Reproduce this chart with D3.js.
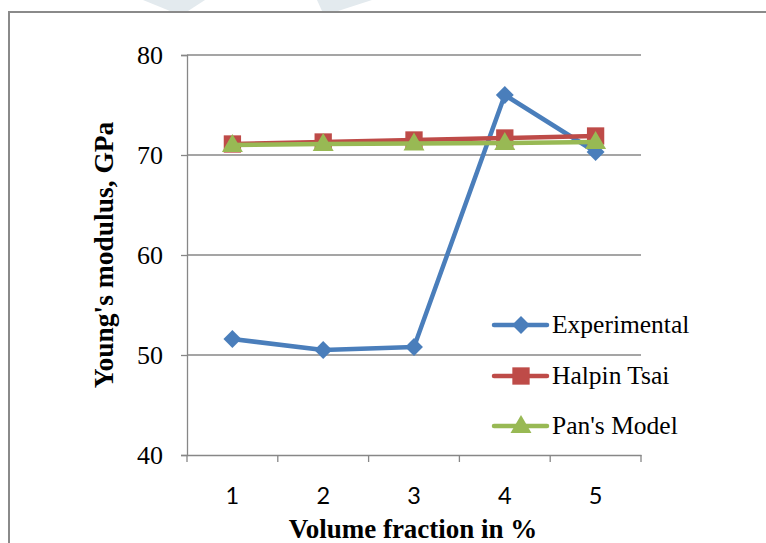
<!DOCTYPE html>
<html><head><meta charset="utf-8">
<script src="https://cdn.jsdelivr.net/npm/d3@7"></script>
<style>html,body{margin:0;padding:0;background:#fff;overflow:hidden}</style>
</head><body>
<script>
const categories = ["1","2","3","4","5"];
const experimental = [51.6, 50.5, 50.8, 76.0, 70.3];
const halpinTsai = [71.1, 71.3, 71.5, 71.7, 71.9];
const pansModel = [71.0, 71.1, 71.15, 71.2, 71.3];
const yTicks = [40, 50, 60, 70, 80];
const seriesNames = ["Experimental", "Halpin Tsai", "Pan's Model"];

const W = 766, H = 543;
const svg = d3.select("body").append("svg").attr("width", W).attr("height", H);

// faint watermark shapes at top
svg.append("polygon").attr("points", "143,0 205,0 188,11 170,11").attr("fill", "#e3eaee");
svg.append("polygon").attr("points", "317,0 372,0 338,11 322,11").attr("fill", "#e3eaee");

// outer border
svg.append("rect").attr("x", 9).attr("y", 12).attr("width", 800).attr("height", 600)
  .attr("fill", "none").attr("stroke", "#8a8a8a").attr("stroke-width", 2);

const x = d3.scaleBand().domain(categories).range([187, 641]);
const y = d3.scaleLinear().domain([40, 80]).range([455, 55]);

// gridlines
svg.append("g").selectAll("line").data(yTicks.filter(d => d > 40)).join("line")
  .attr("x1", 187).attr("x2", 641).attr("y1", d => y(d)).attr("y2", d => y(d))
  .attr("stroke", "#878787").attr("stroke-width", 1.3);

// y axis
const ya = svg.append("g").attr("transform", "translate(187,0)")
  .call(d3.axisLeft(y).tickValues(yTicks).tickSize(6).tickPadding(18));
ya.select(".domain").attr("stroke", "#878787").attr("stroke-width", 1.3);
ya.selectAll(".tick line").attr("stroke", "#878787").attr("stroke-width", 1.3);
ya.selectAll(".tick text").attr("font-family", "Liberation Serif, Times New Roman, serif")
  .attr("font-size", 26).attr("fill", "#000");

// x axis
const xa = svg.append("g").attr("transform", "translate(0,455)")
  .call(d3.axisBottom(x).tickSize(0).tickPadding(32));
xa.select(".domain").attr("stroke", "#878787").attr("stroke-width", 1.3);
xa.selectAll(".tick text").attr("font-family", "Lato, Open Sans, sans-serif")
  .attr("font-size", 23.5).attr("fill", "#000");
// x tick marks at band boundaries
const bounds = categories.map(c => x(c)).concat([x(categories[categories.length-1]) + x.bandwidth()]);
svg.append("g").selectAll("line").data(bounds).join("line")
  .attr("x1", d => d).attr("x2", d => d).attr("y1", 455).attr("y2", 462)
  .attr("stroke", "#878787").attr("stroke-width", 1.3);

// titles
svg.append("text").attr("x", 413).attr("y", 538).attr("text-anchor", "middle")
  .attr("font-family", "Liberation Serif, Times New Roman, serif").attr("font-weight", "bold")
  .attr("font-size", 27).text("Volume fraction in %");
svg.append("text").attr("transform", "translate(113,255) rotate(-90)").attr("text-anchor", "middle")
  .attr("font-family", "Liberation Serif, Times New Roman, serif").attr("font-weight", "bold")
  .attr("font-size", 27.5).text("Young's modulus, GPa");

const colors = ["#4a7ebb", "#be4b48", "#98b954"];
const data = [experimental, halpinTsai, pansModel];
const cx = c => x(c) + x.bandwidth() / 2;
const line = d3.line().x((d, i) => cx(categories[i])).y(d => y(d));

function marker(g, i, px, py) {
  if (i === 0) {
    g.append("path").attr("d", d3.symbol(d3.symbolSquare, 160)()).attr("transform", `translate(${px},${py}) rotate(45)`)
      .attr("fill", colors[i]);
  } else if (i === 1) {
    g.append("path").attr("d", d3.symbol(d3.symbolSquare, 300)()).attr("transform", `translate(${px},${py})`)
      .attr("fill", colors[i]);
  } else {
    g.append("path").attr("d", d3.symbol(d3.symbolTriangle, 190)()).attr("transform", `translate(${px},${py + 1})`)
      .attr("fill", colors[i]);
  }
}

data.forEach((vals, i) => {
  const g = svg.append("g");
  g.append("path").attr("d", line(vals)).attr("fill", "none").attr("stroke", colors[i])
    .attr("stroke-width", 4.5).attr("stroke-linejoin", "round");
  vals.forEach((v, j) => marker(g, i, cx(categories[j]), y(v)));
});

// legend
const lg = svg.append("g");
const legY = [325, 376, 426];
seriesNames.forEach((n, i) => {
  lg.append("line").attr("x1", 494).attr("x2", 547).attr("y1", legY[i]).attr("y2", legY[i])
    .attr("stroke", colors[i]).attr("stroke-width", 4.5).attr("stroke-linecap", "round");
  marker(lg, i, 521, legY[i]);
  lg.append("text").attr("x", 552).attr("y", legY[i] + 8)
    .attr("font-family", "Liberation Serif, Times New Roman, serif").attr("font-size", 25.5)
    .text(n);
});
</script>
</body></html>
